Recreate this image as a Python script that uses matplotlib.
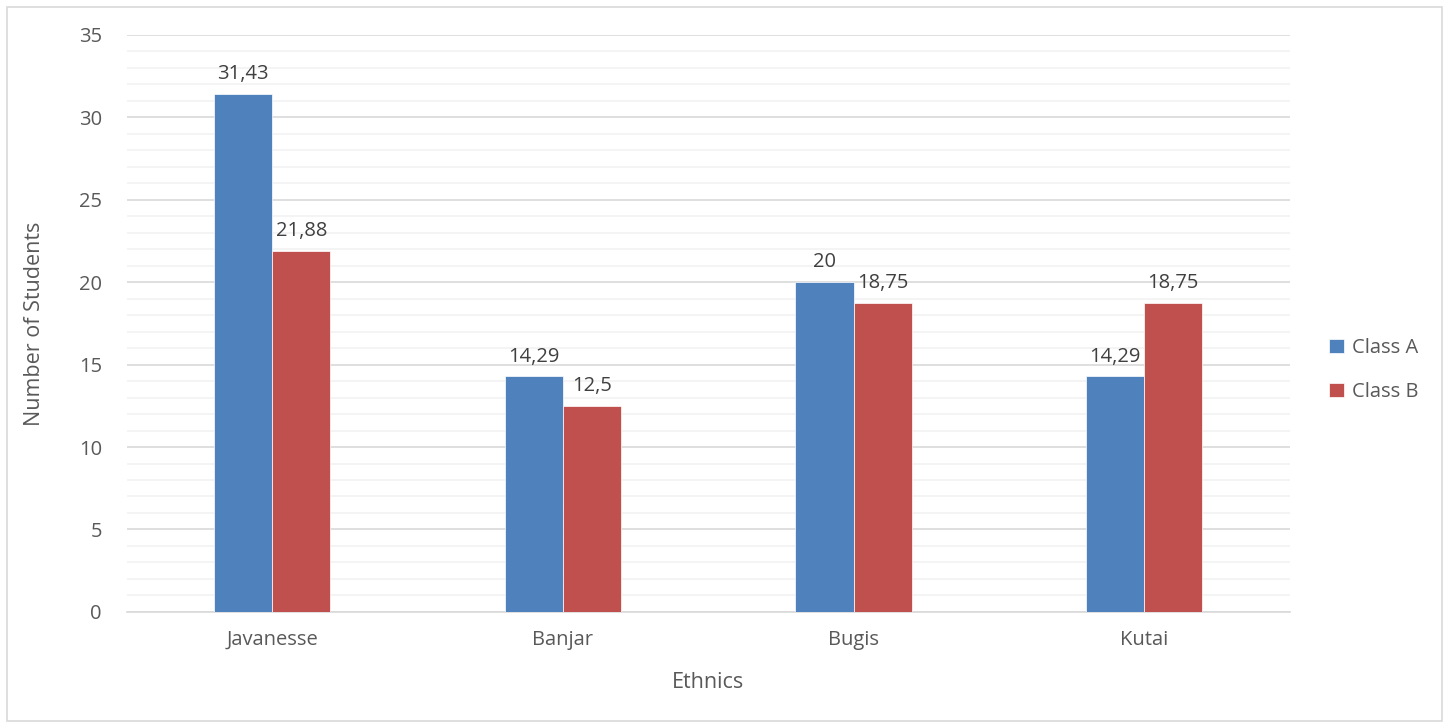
import matplotlib.pyplot as plt
import numpy as np
from matplotlib.patches import Rectangle

ethnics = ['Javanesse', 'Banjar', 'Bugis', 'Kutai']
class_a = [31.43, 14.29, 20, 14.29]
class_b = [21.88, 12.5, 18.75, 18.75]
series_names = ['Class A', 'Class B']
colors = ['#4f81bd', '#c0504d']

plt.rcParams['font.family'] = ['Open Sans', 'DejaVu Sans']

fig = plt.figure(figsize=(14.49, 7.25), dpi=100)
ax = fig.add_axes([0.0876, 0.156, 0.8024, 0.796])

# light frame around the whole chart
fig.patches.append(Rectangle((0.005, 0.005), 0.99, 0.985, transform=fig.transFigure,
                             fill=False, edgecolor='#d9d9d9', linewidth=1.2))

x = np.arange(len(ethnics))
width = 0.2

def fmt(v):
    s = f'{v:g}'
    return s.replace('.', ',')

for i, (vals, name) in enumerate(zip([class_a, class_b], series_names)):
    bars = ax.bar(x + (i - 0.5) * width, vals, width, color=colors[i], label=name,
                  edgecolor='white', linewidth=0.5, zorder=3)
    for b, v in zip(bars, vals):
        ax.annotate(fmt(v), (b.get_x() + b.get_width() / 2, v), xytext=(0, 7),
                    textcoords='offset points', ha='center', va='bottom',
                    fontsize=14.5, color='#404040')

ax.set_xlim(-0.5, 3.5)
ax.set_ylim(0, 35)
ax.set_yticks(np.arange(0, 36, 5))
ax.set_yticks(np.arange(0, 36, 1), minor=True)
ax.grid(axis='y', which='major', color='#d9d9d9', linewidth=1.2, zorder=0)
ax.grid(axis='y', which='minor', color='#f2f2f2', linewidth=1.2, zorder=0)
ax.set_xticks(x)
ax.set_xticklabels(ethnics)
ax.tick_params(axis='both', which='both', length=0, labelsize=14.5, colors='#595959')
ax.tick_params(axis='x', pad=13)
ax.tick_params(axis='y', pad=18)
for side in ['top', 'right', 'left']:
    ax.spines[side].set_visible(False)
ax.spines['bottom'].set_color('#d9d9d9')
ax.spines['bottom'].set_linewidth(1.2)

ax.set_xlabel('Ethnics', fontsize=15.5, color='#595959', labelpad=16)
ax.set_ylabel('Number of Students', fontsize=15.5, color='#595959', labelpad=24)

ax.legend(loc='center left', bbox_to_anchor=(0.905, 0.490), bbox_transform=fig.transFigure,
          frameon=False, fontsize=14.5, labelcolor='#595959', handlelength=0.7,
          handleheight=0.7, handletextpad=0.4, labelspacing=1.2)

plt.savefig('out.png', dpi=100)
